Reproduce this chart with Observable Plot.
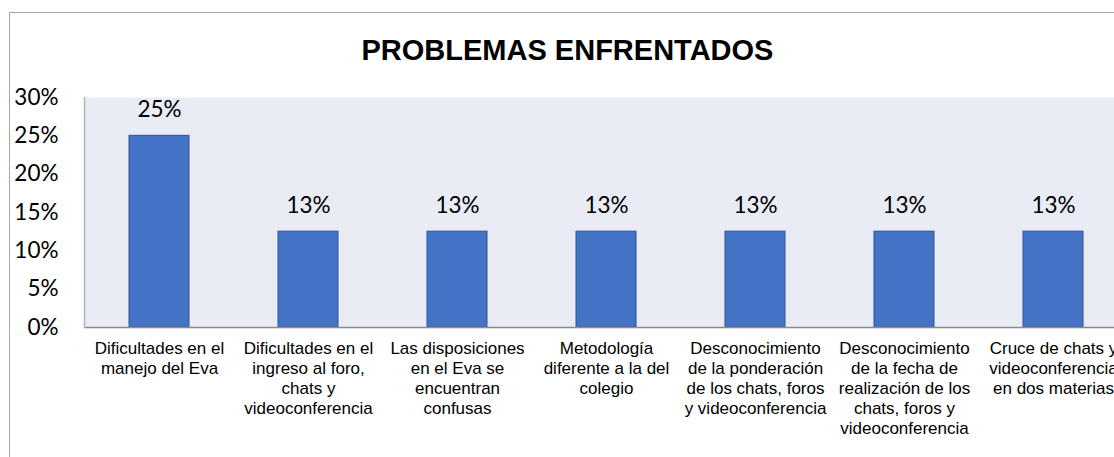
<!DOCTYPE html>
<html>
<head>
<meta charset="utf-8">
<script src="https://cdn.jsdelivr.net/npm/d3@7"></script>
<script src="https://cdn.jsdelivr.net/npm/@observablehq/plot@0.6"></script>
<style>
  html, body { margin: 0; padding: 0; background: #fff; overflow: hidden; }
  #wrap { position: relative; width: 1114px; height: 457px; overflow: hidden; background: #fff; }
  #border { position: absolute; left: 9px; top: 12px; width: 1200px; height: 600px; border: 1px solid #A6A6A6; box-sizing: border-box; }
  #chart { position: absolute; left: 0; top: 0; }
  #chart svg { background: transparent; overflow: hidden; }
</style>
</head>
<body>
<div id="wrap">
  <div id="border"></div>
  <div id="chart"></div>
</div>
<script>
const title = "PROBLEMAS ENFRENTADOS";
const categories = [
  "Dificultades en el\nmanejo del Eva",
  "Dificultades en el\ningreso al foro,\nchats y\nvideoconferencia",
  "Las disposiciones\nen el Eva se\nencuentran\nconfusas",
  "Metodología\ndiferente a la del\ncolegio",
  "Desconocimiento\nde la ponderación\nde los chats, foros\ny videoconferencia",
  "Desconocimiento\nde la fecha de\nrealización de los\nchats, foros y\nvideoconferencia",
  "Cruce de chats y\nvideoconferencia\nen dos materias"
];
const values = [0.25, 0.125, 0.125, 0.125, 0.125, 0.125, 0.125];
const valueLabels = ["25%", "13%", "13%", "13%", "13%", "13%", "13%"];
const yTicks = [0, 0.05, 0.10, 0.15, 0.20, 0.25, 0.30];
const yTickLabels = ["0%", "5%", "10%", "15%", "20%", "25%", "30%"];

const data = categories.map((c, i) => ({category: c, value: values[i], label: valueLabels[i]}));

const chart = Plot.plot({
  width: 1114,
  height: 457,
  marginLeft: 84,
  marginTop: 97,
  marginBottom: 130,
  marginRight: -13,
  style: {background: "transparent", color: "#000"},
  x: {domain: categories, paddingInner: 0.6, paddingOuter: 0.3, label: null, axis: null},
  y: {domain: [0, 0.3], label: null, axis: null},
  marks: [
    Plot.frame({fill: "#E9EBF5", stroke: null}),
    Plot.barY(data, {x: "category", y: "value", fill: "#4472C4", stroke: "#2F5597", strokeWidth: 1}),
    Plot.ruleY([0], {stroke: "#8C8C8C", strokeWidth: 1.5}),
    Plot.frame({anchor: "left", stroke: "#B4B4B4", strokeWidth: 1.5}),
    Plot.text(data, {x: "category", y: "value", text: "label", dy: -26, fontSize: 22.5, fontFamily: "Lato, Carlito, Calibri, sans-serif", fill: "#000"}),
    Plot.axisY({ticks: yTicks, tickFormat: (d) => yTickLabels[yTicks.indexOf(d)], tickSize: 0, tickPadding: 26, fontSize: 22.5, fontFamily: "Lato, Carlito, Calibri, sans-serif", fill: "#000", label: null}),
    Plot.axisX({tickSize: 0, tickPadding: 12, fontSize: 17, fontFamily: "Liberation Sans, Arial, sans-serif", lineHeight: 1.176, fill: "#000", label: null})
  ]
});

d3.select(chart).append("text")
  .attr("x", 567.5)
  .attr("y", 60)
  .attr("text-anchor", "middle")
  .attr("font-family", "Liberation Sans, Arial, sans-serif")
  .attr("font-weight", "bold")
  .attr("font-size", 29)
  .attr("fill", "#000")
  .text(title);

document.getElementById("chart").appendChild(chart);
</script>
</body>
</html>
